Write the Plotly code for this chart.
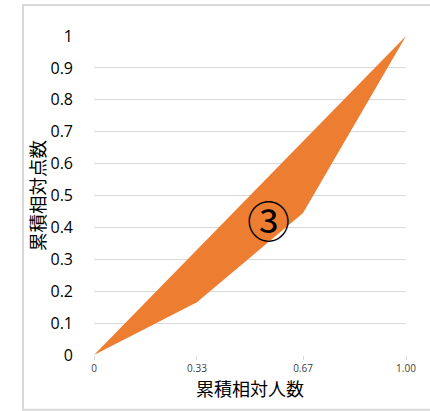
import plotly.graph_objects as go

# Lorenz-curve data: cumulative share of people vs cumulative share of points
x_share = [0, 0.33, 0.67, 1.00]
x_labels = ["0", "0.33", "0.67", "1.00"]
equality = [0, 0.33, 0.67, 1.00]
lorenz = [0, 0.165, 0.445, 1.00]

y_ticks = [0, 0.1, 0.2, 0.3, 0.4, 0.5, 0.6, 0.7, 0.8, 0.9, 1]
y_labels = ["0", "0.1", "0.2", "0.3", "0.4", "0.5", "0.6", "0.7", "0.8", "0.9", "1"]

ORANGE = "#ed7d31"
FONT = "Noto Sans CJK JP"
NUM_FONT = "Open Sans"

fig = go.Figure()
fig.add_trace(go.Scatter(x=x_share, y=lorenz, mode="lines",
                         line=dict(color=ORANGE, width=0), hoverinfo="skip",
                         showlegend=False))
fig.add_trace(go.Scatter(x=x_share, y=equality, mode="lines",
                         line=dict(color=ORANGE, width=0), fill="tonexty",
                         fillcolor=ORANGE, showlegend=False))

fig.add_annotation(x=0.56, y=0.425, text="③", showarrow=False,
                   font=dict(family=FONT, size=43, color="#000000"))

# light frame around the chart
fig.add_shape(type="rect", xref="paper", yref="paper",
              x0=-0.2276, x1=1.2, y0=-0.172, y1=1.097,
              line=dict(color="#d9d9d9", width=2), layer="above")

fig.update_layout(
    width=430, height=411,
    margin=dict(l=94, r=24, t=36, b=56),
    paper_bgcolor="white", plot_bgcolor="white",
    font=dict(family=FONT, color="#404040"),
    xaxis=dict(range=[0, 1], tickvals=x_share, ticktext=x_labels,
               tickfont=dict(family=NUM_FONT, size=10, color="#404040"),
               showgrid=False, zeroline=False, showline=False,
               ticks="outside", ticklen=4, tickcolor="#d9d9d9",
               title=dict(text="累積相対人数", font=dict(size=18, color="#000000"),
                          standoff=2)),
    yaxis=dict(range=[0, 1], tickvals=y_ticks, ticktext=y_labels,
               tickfont=dict(family=NUM_FONT, size=16, color="#000000"),
               showgrid=True, gridcolor="#d9d9d9", gridwidth=1,
               zeroline=False, showline=False, ticklabelstandoff=20,
               title=dict(text="累積相対点数", font=dict(size=18.5, color="#000000"),
                          standoff=0)),
)

fig.write_html("out.html")
